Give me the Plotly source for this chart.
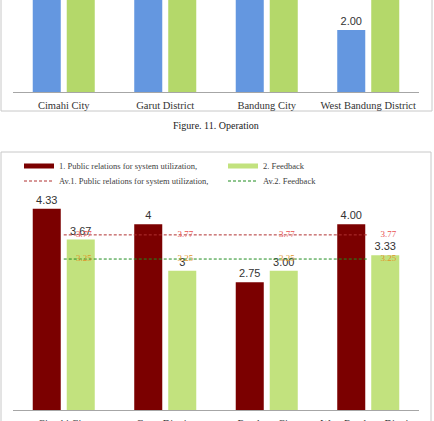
import plotly.graph_objects as go

# ---------------- data ----------------
categories = ["Cimahi City", "Garut District", "Bandung City", "West Bandung District"]

# Figure 11 (Operation) - upper chart, mostly cropped out of view
op_series1 = [4.00, 3.67, 3.67, 2.00]
op_series1_labels = ["4.00", "3.67", "3.67", "2.00"]
op_series2 = [3.67, 4.00, 3.67, 3.33]
op_series2_labels = ["3.67", "4.00", "3.67", "3.33"]

# Lower chart
pr_name = "1. Public relations for system utilization,"
fb_name = "2. Feedback"
pr_avg_name = "Av.1. Public relations for system utilization,"
fb_avg_name = "Av.2. Feedback"

pr_values = [4.33, 4.00, 2.75, 4.00]
pr_labels = ["4.33", "4", "2.75", "4.00"]
fb_values = [3.67, 3.00, 3.00, 3.33]
fb_labels = ["3.67", "3", "3.00", "3.33"]
pr_avg = [3.77, 3.77, 3.77, 3.77]
fb_avg = [3.25, 3.25, 3.25, 3.25]
caption = "Figure. 11. Operation"

# ---------------- layout helpers ----------------
W, H = 434, 421


def py(p):
    return (H - p) / H


def px(p):
    return p / W


SERIF = "Liberation Serif"
SANS = "Liberation Sans"
RED = "#7B0000"
GREEN_B = "#C2E27E"

top_range = [0, 92 / 31]
# only the label of a bar that ends inside the visible window is drawn
op1_pos = ["outside" if v < top_range[1] else "none" for v in op_series1]
op2_pos = ["outside" if v < top_range[1] else "none" for v in op_series2]

fig = go.Figure()

# upper chart bars
fig.add_trace(go.Bar(x=categories, y=op_series1, text=op_series1_labels, textposition=op1_pos,
                     marker=dict(color="#6497E0", line=dict(width=0)), cliponaxis=True,
                     textfont=dict(family=SANS, size=11, color="#333"),
                     xaxis="x", yaxis="y", showlegend=False))
fig.add_trace(go.Bar(x=categories, y=op_series2, text=op_series2_labels, textposition=op2_pos,
                     marker=dict(color="#B4D86A", line=dict(width=0)), cliponaxis=True,
                     textfont=dict(family=SANS, size=11, color="#333"),
                     xaxis="x", yaxis="y", showlegend=False))

# lower chart bars
fig.add_trace(go.Bar(x=categories, y=pr_values, text=pr_labels, textposition="outside",
                     marker=dict(color=RED, line=dict(width=0)), cliponaxis=False,
                     textfont=dict(family=SANS, size=11, color="#333"),
                     xaxis="x2", yaxis="y2", showlegend=False, name=pr_name))
fig.add_trace(go.Bar(x=categories, y=fb_values, text=fb_labels, textposition="outside",
                     marker=dict(color=GREEN_B, line=dict(width=0)), cliponaxis=False,
                     textfont=dict(family=SANS, size=11, color="#333"),
                     xaxis="x2", yaxis="y2", showlegend=False, name=fb_name))

# average lines
fig.add_trace(go.Scatter(x=categories, y=pr_avg, mode="lines", name=pr_avg_name,
                         line=dict(color="#B03030", width=1, dash="3px,2px"),
                         xaxis="x2", yaxis="y2", legend="legend2"))
fig.add_trace(go.Scatter(x=categories, y=fb_avg, mode="lines", name=fb_avg_name,
                         line=dict(color="#1E8C1E", width=1, dash="3px,2px"),
                         xaxis="x2", yaxis="y2", legend="legend2"))
fig.add_trace(go.Scatter(x=categories, y=pr_avg, mode="markers+text", texttemplate="%{y:.2f}",
                         textposition="middle right", cliponaxis=False,
                         marker=dict(size=18, opacity=0),
                         textfont=dict(family=SERIF, size=9, color="#E8504F"),
                         xaxis="x2", yaxis="y2", showlegend=False, hoverinfo="skip"))
fig.add_trace(go.Scatter(x=categories, y=fb_avg, mode="markers+text", texttemplate="%{y:.2f}",
                         textposition="middle right", cliponaxis=False,
                         marker=dict(size=18, opacity=0),
                         textfont=dict(family=SERIF, size=9, color="#E0962A"),
                         xaxis="x2", yaxis="y2", showlegend=False, hoverinfo="skip"))

# legend entries for the bar series (thick line swatches)
fig.add_trace(go.Scatter(x=[None], y=[None], mode="lines", name=pr_name,
                         line=dict(color=RED, width=5), xaxis="x2", yaxis="y2", legend="legend"))
fig.add_trace(go.Scatter(x=[None], y=[None], mode="lines", name=fb_name,
                         line=dict(color=GREEN_B, width=5), xaxis="x2", yaxis="y2", legend="legend"))

xdom = [px(13), px(419)]
axis_common = dict(domain=xdom, showline=True, linecolor="#A6A6A6", linewidth=1,
                   showgrid=False, zeroline=False, ticks="", fixedrange=True,
                   automargin=False, ticklabelstandoff=3,
                   tickfont=dict(family=SERIF, size=10.5, color="#333"))

legend_common = dict(orientation="h", xanchor="left", yanchor="middle",
                     bgcolor="rgba(0,0,0,0)", entrywidth=159, entrywidthmode="pixels",
                     font=dict(family=SERIF, size=8.5, color="#404040"),
                     tracegroupgap=0, itemclick=False)

fig.update_layout(
    width=W, height=H,
    margin=dict(l=0, r=0, t=0, b=0, autoexpand=False),
    paper_bgcolor="white", plot_bgcolor="white",
    barmode="group", bargap=0.33, bargroupgap=0.176,
    xaxis=dict(anchor="y", **axis_common),
    yaxis=dict(domain=[py(92), 1], range=top_range, visible=False, fixedrange=True, automargin=False),
    xaxis2=dict(anchor="y2", **axis_common),
    yaxis2=dict(domain=[py(410), py(190)], range=[0, 220 / 46.45], visible=False,
                fixedrange=True, automargin=False),
    legend=dict(x=px(19), y=py(166), **legend_common),
    legend2=dict(x=px(19), y=py(181), **legend_common),
    annotations=[dict(text=caption, x=0.498, y=py(125), xref="paper", yref="paper",
                      xanchor="center", yanchor="middle",
                      showarrow=False, font=dict(family=SERIF, size=10, color="#222"))],
    shapes=[
        dict(type="rect", xref="paper", yref="paper", x0=px(1), x1=px(432), y0=py(111), y1=py(-5),
             line=dict(color="#C8C8C8", width=1), layer="below"),
        dict(type="rect", xref="paper", yref="paper", x0=px(1), x1=px(431), y0=py(440), y1=py(152),
             line=dict(color="#C8C8C8", width=1), layer="below"),
    ],
)

fig.write_html("out.html")
